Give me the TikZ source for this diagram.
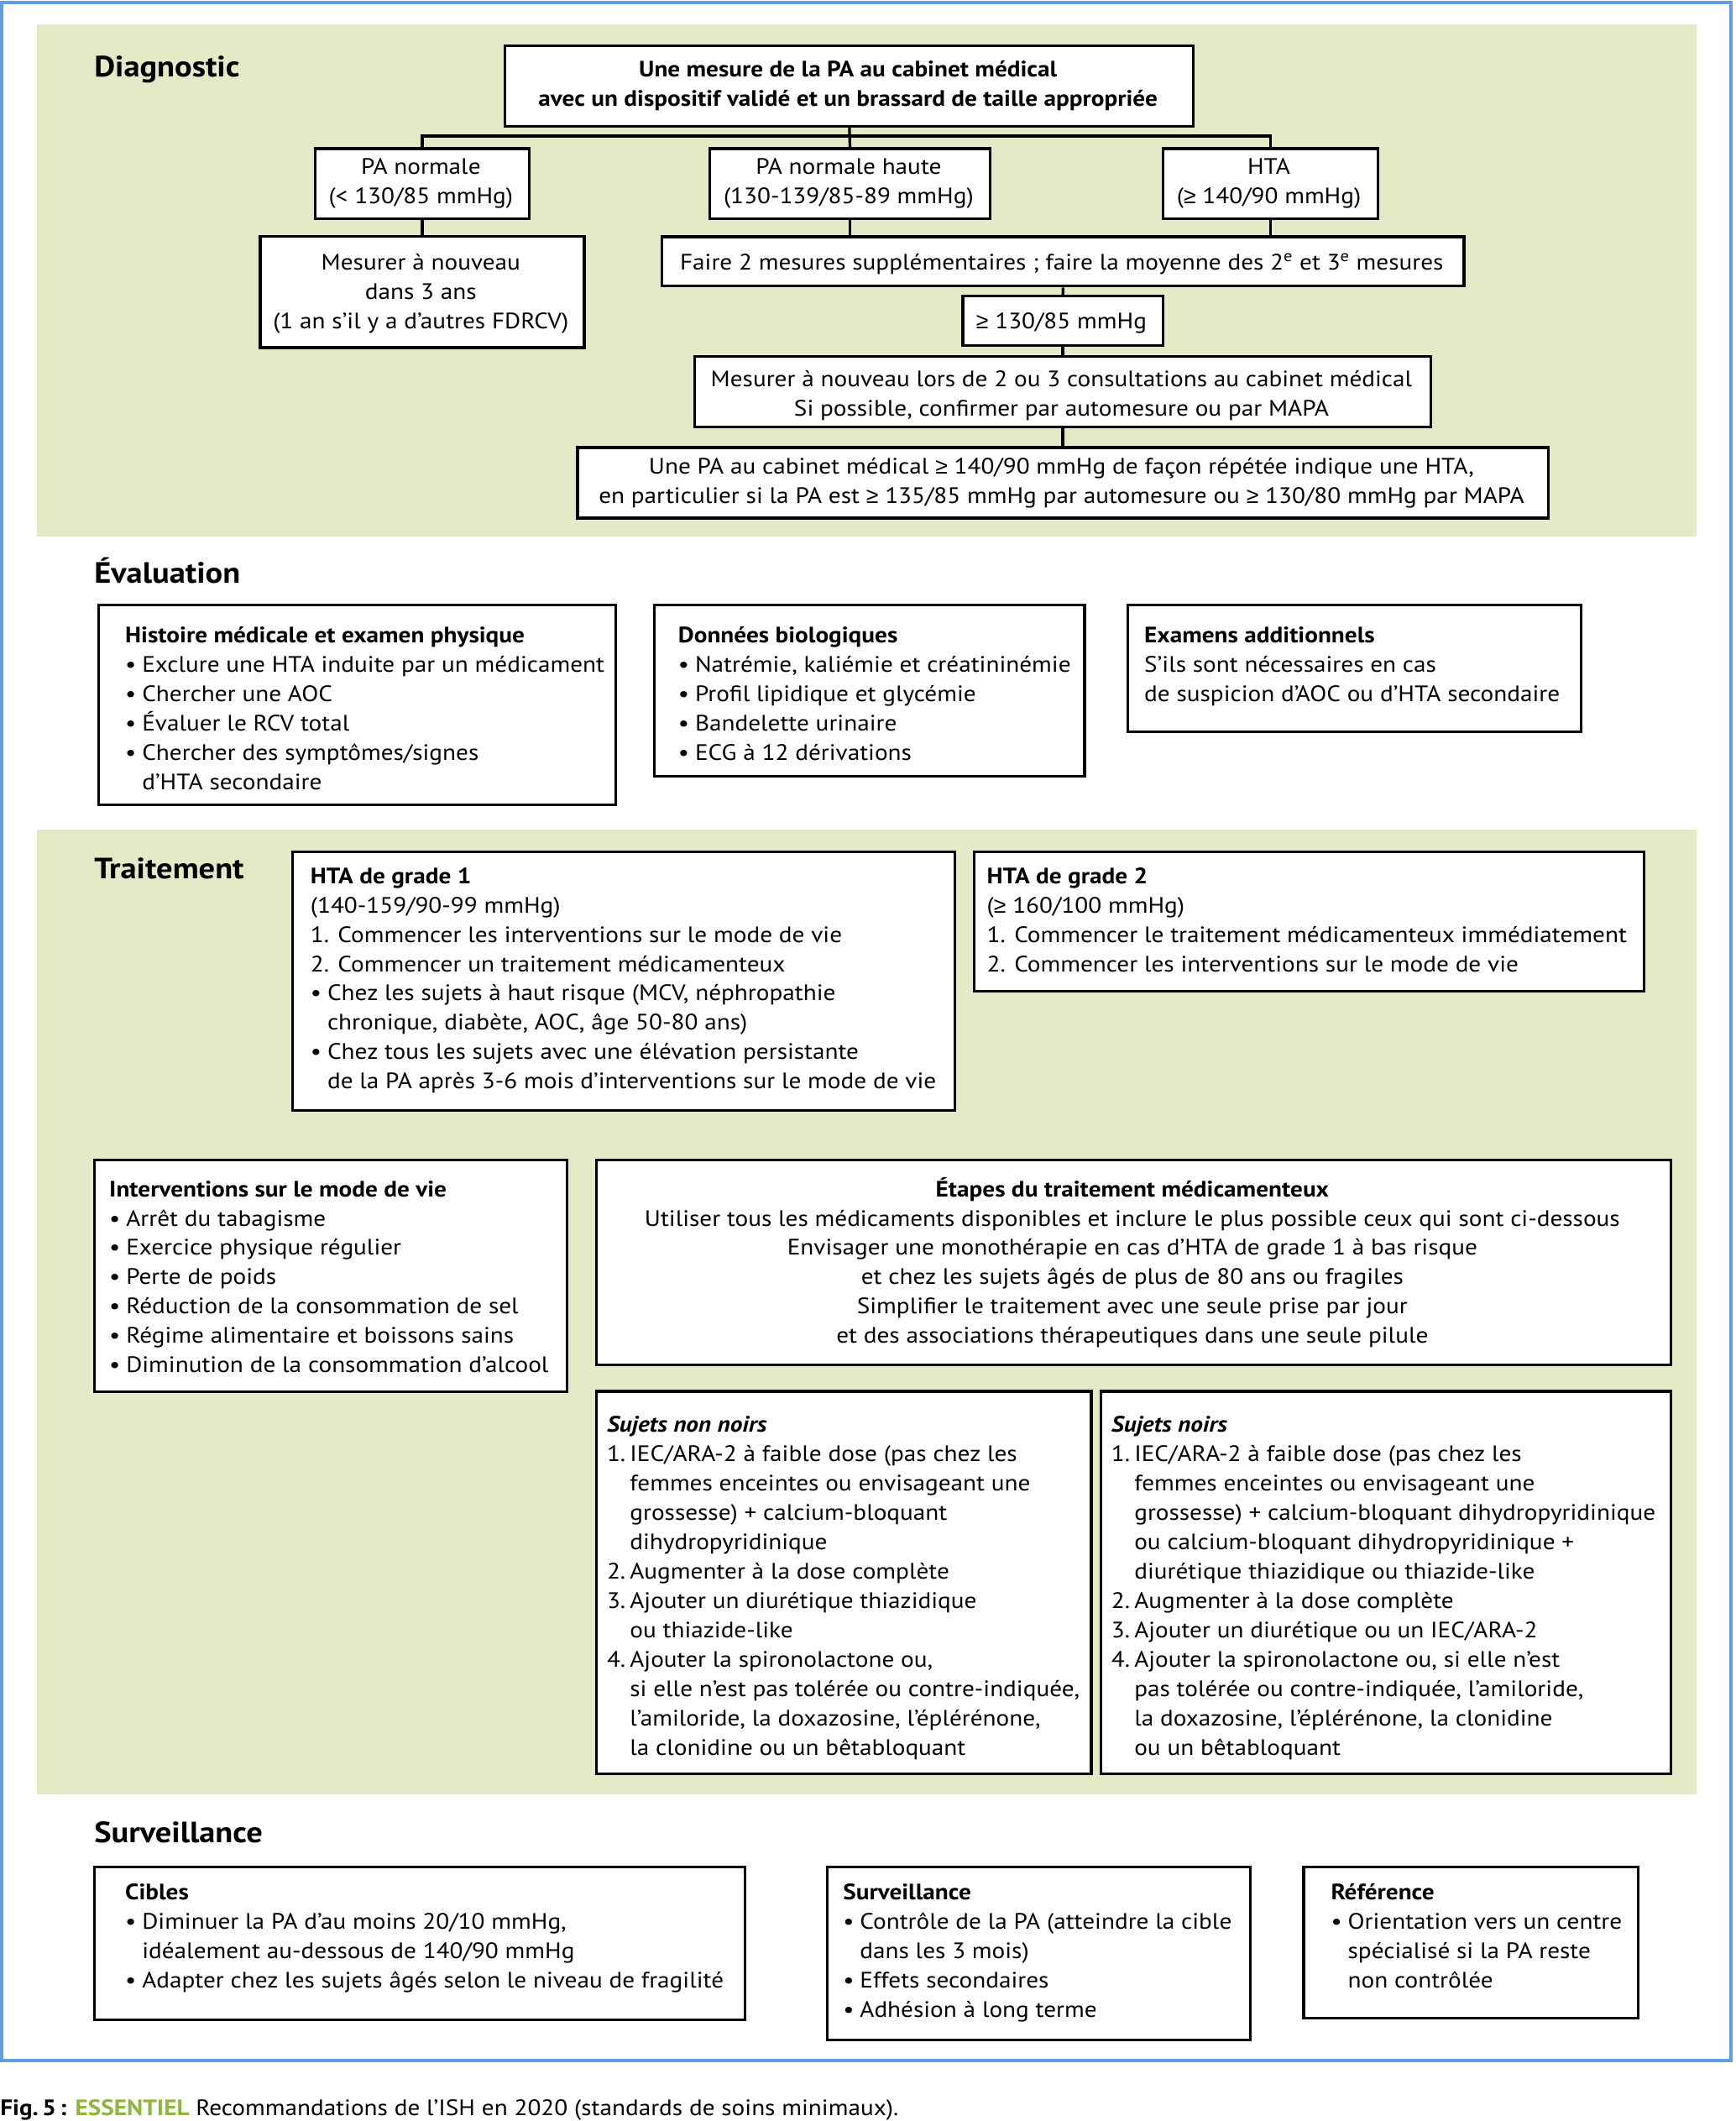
\documentclass[tikz,border=0pt]{standalone}
\usepackage{fontspec}
\setmainfont{PT Sans}[FakeStretch=1.10]
\newfontfamily\symf{Liberation Sans}
\usetikzlibrary{calc}
\definecolor{panel}{RGB}{228,233,198}
\definecolor{frameblue}{RGB}{95,158,225}
\definecolor{essgreen}{RGB}{141,182,59}
\newcommand\bodyf{\fontsize{16.5}{21.7}\selectfont}
\newcommand\headf{\fontsize{21.7}{26}\selectfont\bfseries}
\newcommand\gsym{{\symf ≥}}
\newcommand\bu{\makebox[12.5pt][l]{•}}
\newcommand\ind{\hspace*{12.5pt}}
\newcommand\nm[1]{\makebox[17pt][l]{#1}}
\newcommand\nind{\hspace*{17pt}}
\newcommand\boxat[5]{\node[box,minimum width={(#4-#2)*1pt},minimum height={(#5-#3)*1pt}] (#1) at (#2,#3) {};}
\newcommand\tl[4]{\node[txt] (#1) at (#2,{#3-15.19}) {\strut#4};}
\newcommand\tc[4]{\node[ctxt] (#1) at (#2,{#3-15.19}) {\strut#4};}
\begin{document}
\begin{tikzpicture}[x=1pt,y=-1pt,
  box/.style={draw=black,line width=2pt,fill=white,inner sep=0pt,anchor=north west},
  txt/.style={inner sep=0pt,anchor=north west,align=left,font=\bodyf},
  ctxt/.style={inner sep=0pt,anchor=north,align=center,font=\bodyf},
  head/.style={inner sep=0pt,anchor=base west,font=\headf},
  conn/.style={line width=2pt}]
\useasboundingbox (0,0) rectangle (1283.1,1568);
% frame and panels
\draw[frameblue,line width=2.5pt] (1.5,2) rectangle (1280,1523.5);
\fill[panel] (27.4,18) rectangle (1254.6,396.9);
\fill[panel] (27.4,613) rectangle (1254.6,1326.8);
% headings
\node[head] (hdiag) at (69.5,56.8) {Diagnostic};
\node[head] (heval) at (69.5,431.2) {Évaluation};
\node[head] (htrait) at (69.5,649.5) {Traitement};
\node[head] (hsurv) at (69.5,1362.5) {Surveillance};
% ---------- Diagnostic ----------
\boxat{top}{372.6}{32.7}{881.6}{92.3}
\boxat{pan}{231.9}{108.9}{390.5}{160.5}
\boxat{pnh}{523.8}{108.9}{731.2}{160.5}
\boxat{hta}{858.8}{108.9}{1017.8}{160.5}
\boxat{mes3}{191.4}{173.5}{431}{256}
\boxat{faire}{488.6}{174}{1081.6}{210.6}
\boxat{ge}{711}{218}{858.8}{254.4}
\boxat{mesl}{512.8}{262.4}{1057}{314.5}
\boxat{last}{426}{329.8}{1143.8}{382}
\coordinate (bus) at (627,100.6);
\draw[conn] (pan.north) -- (pan.north |- bus) -- (hta.north |- bus) -- (hta.north);
\draw[conn] (top.south) -- (pnh.north);
\draw[conn] (pan.south) -- (mes3.north);
\draw[conn] (pnh.south) -- (pnh.south |- faire.north);
\draw[conn] (hta.south) -- (hta.south |- faire.north);
\draw[conn] (faire.south) -- (ge.north);
\draw[conn] (ge.south) -- (mesl.north);
\draw[conn] (mesl.south) -- (last.north);
\tc{topt}{627.1}{56.8}{\textbf{Une mesure de la PA au cabinet médical}\\\textbf{avec un dispositif validé et un brassard de taille appropriée}}
\tc{pant}{311.2}{128.8}{PA normale\\(< 130/85 mmHg)}
\tc{pnht}{627.5}{128.8}{PA normale haute\\(130-139/85-89 mmHg)}
\tc{htat}{938.3}{128.8}{HTA\\(\gsym{} 140/90 mmHg)}
\tc{mes3t}{311.2}{199.3}{Mesurer à nouveau\\dans 3 ans\\(1 an s’il y a d’autres FDRCV)}
\tc{fairet}{785.1}{199.3}{Faire 2 mesures supplémentaires ; faire la moyenne des 2\textsuperscript{e} et 3\textsuperscript{e} mesures}
\tc{get}{784.9}{243}{\gsym{} 130/85 mmHg}
\tc{meslt}{784.9}{285.4}{Mesurer à nouveau lors de 2 ou 3 consultations au cabinet médical\\Si possible, confirmer par automesure ou par MAPA}
\tc{lastt}{784.9}{350.5}{Une PA au cabinet médical \gsym{} 140/90 mmHg de façon répétée indique une HTA,\\en particulier si la PA est \gsym{} 135/85 mmHg par automesure ou \gsym{} 130/80 mmHg par MAPA}
% ---------- Evaluation ----------
\boxat{hist}{72}{446.4}{454.4}{593.9}
\boxat{bio}{483}{446.4}{801}{573}
\boxat{exa}{833}{446.4}{1168}{540}
\tl{histt}{92.4}{475}{\textbf{Histoire médicale et examen physique}\\\bu Exclure une HTA induite par un médicament\\\bu Chercher une AOC\\\bu Évaluer le RCV total\\\bu Chercher des symptômes/signes\\\ind d’HTA secondaire}
\tl{biot}{501.3}{475}{\textbf{Données biologiques}\\\bu Natrémie, kaliémie et créatininémie\\\bu Profil lipidique et glycémie\\\bu Bandelette urinaire\\\bu ECG à 12 dérivations}
\tl{exat}{846}{475}{\textbf{Examens additionnels}\\S’ils sont nécessaires en cas\\de suspicion d’AOC ou d’HTA secondaire}
% ---------- Traitement ----------
\boxat{g1}{215.5}{628.8}{705}{820}
\boxat{g2}{719.3}{628.8}{1214.5}{732}
\boxat{life}{68.7}{856.7}{418.3}{1027.7}
\boxat{etap}{440}{856.7}{1234.6}{1008}
\boxat{snn}{440}{1027.5}{806}{1310.5}
\boxat{sn}{813}{1027.5}{1234.6}{1310.5}
\tl{g1t}{229.4}{652.9}{\textbf{HTA de grade 1}\\(140-159/90-99 mmHg)\\1. Commencer les interventions sur le mode de vie\\2. Commencer un traitement médicamenteux\\\bu Chez les sujets à haut risque (MCV, néphropathie\\\ind chronique, diabète, AOC, âge 50-80 ans)\\\bu Chez tous les sujets avec une élévation persistante\\\ind de la PA après 3-6 mois d’interventions sur le mode de vie}
\tl{g2t}{729.6}{652.9}{\textbf{HTA de grade 2}\\(\gsym{} 160/100 mmHg)\\1. Commencer le traitement médicamenteux immédiatement\\2. Commencer les interventions sur le mode de vie}
\tl{lifet}{80.6}{884.4}{\textbf{Interventions sur le mode de vie}\\\bu Arrêt du tabagisme\\\bu Exercice physique régulier\\\bu Perte de poids\\\bu Réduction de la consommation de sel\\\bu Régime alimentaire et boissons sains\\\bu Diminution de la consommation d’alcool}
\tc{etapt}{837.3}{884.4}{\textbf{Étapes du traitement médicamenteux}\\Utiliser tous les médicaments disponibles et inclure le plus possible ceux qui sont ci-dessous\\Envisager une monothérapie en cas d’HTA de grade 1 à bas risque\\et chez les sujets âgés de plus de 80 ans ou fragiles\\Simplifier le traitement avec une seule prise par jour\\et des associations thérapeutiques dans une seule pilule}
\tl{snnt}{448.6}{1058.6}{\textbf{\itshape Sujets non noirs}\\\nm{1.}IEC/ARA-2 à faible dose (pas chez les\\\nind femmes enceintes ou envisageant une\\\nind grossesse) + calcium-bloquant\\\nind dihydropyridinique\\\nm{2.}Augmenter à la dose complète\\\nm{3.}Ajouter un diurétique thiazidique\\\nind ou thiazide-like\\\nm{4.}Ajouter la spironolactone ou,\\\nind si elle n’est pas tolérée ou contre-indiquée,\\\nind l’amiloride, la doxazosine, l’éplérénone,\\\nind la clonidine ou un bêtabloquant}
\tl{snt}{821.6}{1058.6}{\textbf{\itshape Sujets noirs}\\\nm{1.}IEC/ARA-2 à faible dose (pas chez les\\\nind femmes enceintes ou envisageant une\\\nind grossesse) + calcium-bloquant dihydropyridinique\\\nind ou calcium-bloquant dihydropyridinique +\\\nind diurétique thiazidique ou thiazide-like\\\nm{2.}Augmenter à la dose complète\\\nm{3.}Ajouter un diurétique ou un IEC/ARA-2\\\nm{4.}Ajouter la spironolactone ou, si elle n’est\\\nind pas tolérée ou contre-indiquée, l’amiloride,\\\nind la doxazosine, l’éplérénone, la clonidine\\\nind ou un bêtabloquant}
% ---------- Surveillance ----------
\boxat{cib}{68.7}{1379}{550}{1492}
\boxat{surv}{610.5}{1379}{923.4}{1507}
\boxat{ref}{963}{1379}{1210.4}{1491}
\tl{cibt}{92.4}{1404.5}{\textbf{Cibles}\\\bu Diminuer la PA d’au moins 20/10 mmHg,\\\ind idéalement au-dessous de 140/90 mmHg\\\bu Adapter chez les sujets âgés selon le niveau de fragilité}
\tl{survt}{623.2}{1404.5}{\textbf{Surveillance}\\\bu Contrôle de la PA (atteindre la cible\\\ind dans les 3 mois)\\\bu Effets secondaires\\\bu Adhésion à long terme}
\tl{reft}{984}{1404.5}{\textbf{Référence}\\\bu Orientation vers un centre\\\ind spécialisé si la PA reste\\\ind non contrôlée}
% caption
\node[inner sep=0pt,anchor=base west,font=\bodyf] (cap) at (0,1564) {\textbf{Fig.\,5\,:} \textcolor{essgreen}{\textbf{ESSENTIEL}} Recommandations de l’ISH en 2020 (standards de soins minimaux).};
\end{tikzpicture}
\end{document}
